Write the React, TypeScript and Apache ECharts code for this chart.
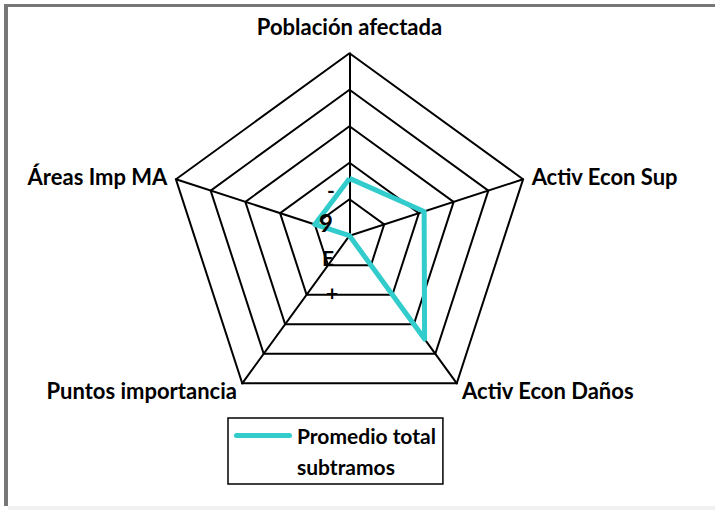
import React, { useEffect, useRef } from "react";
import * as echarts from "echarts";

// Indicators in ECharts order (counter-clockwise from the top)
const indicatorNames = [
  "Población afectada",
  "Áreas Imp MA",
  "Puntos importancia",
  "Activ Econ Daños",
  "Activ Econ Sup",
];
const seriesName = "Promedio total subtramos";
const seriesValues = [1.57, 1.0, 0.0, 3.5, 2.15];
const axisMax = 5;
const tickLabels = ["-", "9", "E", "+"];

const FONT = "Lato, 'Noto Sans', sans-serif";

export default function App() {
  const ref = useRef<HTMLDivElement>(null);
  useEffect(() => {
    if (!ref.current) return;
    const chart = echarts.init(ref.current, undefined, { renderer: "svg" });
    const cx = 349.5;
    const cy = 235.7;
    const tickY = [189, 222, 257, 292];
    const tickX = [331, 326, 328, 332];
    chart.setOption({
      animation: false,
      backgroundColor: "transparent",
      radar: {
        center: [cx, cy],
        radius: 182.5,
        startAngle: 90,
        shape: "polygon",
        splitNumber: 5,
        nameGap: 9,
        indicator: indicatorNames.map((n) => ({ name: n, min: 0, max: axisMax })),
        axisName: {
          color: "#000",
          fontWeight: "bold",
          fontSize: 22,
          fontFamily: FONT,
          formatter: (name: string) =>
            name === indicatorNames[0] ? `{t|${name}}` : name,
          rich: {
            t: {
              color: "#000",
              fontWeight: "bold",
              fontSize: 22,
              fontFamily: FONT,
              padding: [0, 0, 7, 0],
            },
          },
        },
        splitLine: { lineStyle: { color: "#000", width: 2 } },
        axisLine: { lineStyle: { color: "#000", width: 2 } },
        splitArea: { show: false },
        axisTick: { show: false },
        axisLabel: { show: false },
      },
      legend: {
        left: 228,
        top: 418,
        padding: [2, 7, 2, 6],
        borderColor: "#000",
        borderWidth: 1.5,
        itemWidth: 58,
        itemHeight: 36,
        icon: "path://M2.5,0H55.5A2.5,2.5 0 0 1 55.5,5H2.5A2.5,2.5 0 0 1 2.5,0Z M0,35.9H0.1V36H0Z",
        itemStyle: { borderWidth: 0, color: "#33CCCC" },
        formatter: () => "Promedio total\nsubtramos",
        textStyle: {
          color: "#000",
          fontSize: 21,
          fontWeight: "bold",
          fontFamily: FONT,
          lineHeight: 31,
        },
        data: [seriesName],
      },
      graphic: tickLabels.map((t, i) => ({
        type: "text",
        z: 100,
        x: tickX[i],
        y: tickY[i],
        style: {
          text: t,
          fill: "#000",
          font: `bold ${t === "9" ? 24 : 21}px ${FONT}`,
          align: "center",
          verticalAlign: "middle",
        },
      })),
      series: [
        {
          type: "radar",
          name: seriesName,
          symbol: "none",
          lineStyle: { color: "#33CCCC", width: 5 },
          itemStyle: { color: "#33CCCC" },
          data: [{ value: seriesValues, name: seriesName }],
        },
      ],
    });
    return () => chart.dispose();
  }, []);

  return (
    <div style={{ position: "fixed", left: 0, top: 0, width: 715, height: 510, background: "#fff", overflow: "hidden" }}>
      <div style={{ position: "absolute", left: 4, top: 4, width: 711, height: 502, borderLeft: "4px solid #777", borderTop: "3px solid #777", boxSizing: "border-box" }} />
      <div style={{ position: "absolute", left: 8, top: 506, width: 707, height: 4, background: "#f0f0f0" }} />
      <div ref={ref} style={{ position: "absolute", left: 0, top: 0, width: 715, height: 510 }} />
    </div>
  );
}
